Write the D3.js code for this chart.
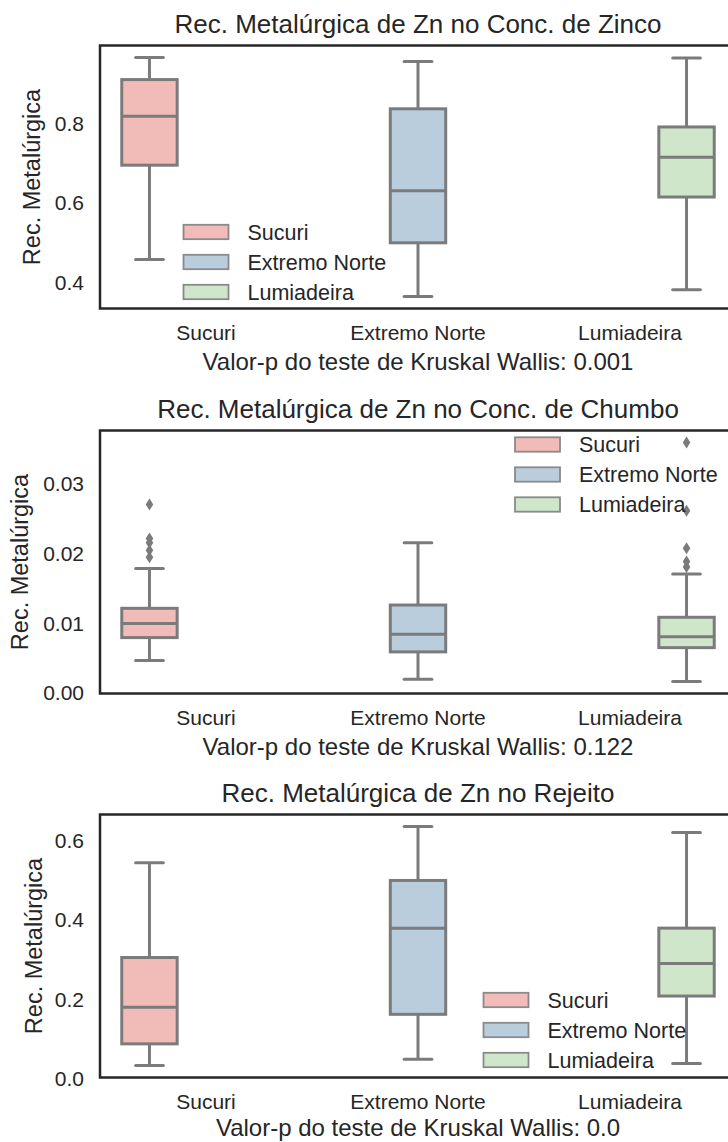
<!DOCTYPE html>
<html>
<head>
<meta charset="utf-8">
<script src="https://cdn.jsdelivr.net/npm/d3@7"></script>
<style>
  html, body { margin: 0; padding: 0; background: #fff; }
  svg { display: block; font-family: "Liberation Sans", Arial, sans-serif; }
</style>
</head>
<body>
<svg id="chart" width="728" height="1142"></svg>
<script>
// ---------- DATA ----------
const categories = ["Sucuri", "Extremo Norte", "Lumiadeira"];
const colors = ["#f1bcb8", "#b9cddd", "#cfe6ca"];

// [whisker low, Q1, median, Q3, whisker high] per category
const zincoStats = [
  [0.458, 0.695, 0.818, 0.910, 0.9656],
  [0.365, 0.500, 0.631, 0.8366, 0.9556],
  [0.382, 0.615, 0.715, 0.791, 0.964]
];
const zincoOutliers = [[], [], []];

const chumboStats = [
  [0.00467, 0.00797, 0.0100, 0.01218, 0.0179],
  [0.0020, 0.00592, 0.00845, 0.01265, 0.02158],
  [0.00166, 0.00653, 0.0081, 0.01089, 0.01709]
];
const chumboOutliers = [
  [0.0271, 0.0222, 0.0216, 0.0205, 0.0195],
  [],
  [0.0360, 0.0262, 0.0208, 0.0189, 0.0181]
];

const rejeitoStats = [
  [0.034, 0.0886, 0.1807, 0.306, 0.5446],
  [0.050, 0.163, 0.380, 0.500, 0.636],
  [0.039, 0.209, 0.291, 0.380, 0.621]
];
const rejeitoOutliers = [[], [], []];

const zincoTicks = [0.4, 0.6, 0.8];
const chumboTicks = [0.00, 0.01, 0.02, 0.03];
const rejeitoTicks = [0.0, 0.2, 0.4, 0.6];

const titles = [
  "Rec. Metalúrgica de Zn no Conc. de Zinco",
  "Rec. Metalúrgica de Zn no Conc. de Chumbo",
  "Rec. Metalúrgica de Zn no Rejeito"
];
const pValues = ["0.001", "0.122", "0.0"];
const yLabel = "Rec. Metalúrgica";

// ---------- LAYOUT ----------
const svg = d3.select("#chart");
const left = 100, right = 736, plotH = 263;
const panels = [
  { top: 45.5, stats: zincoStats, outliers: zincoOutliers, ticks: zincoTicks, fmt: d3.format(".1f"), ylx: 32, xlOff: 61, legend: { x: 183.5, y: 232 } },
  { top: 430.5, stats: chumboStats, outliers: chumboOutliers, ticks: chumboTicks, fmt: d3.format(".2f"), ylx: 20, xlOff: 61, legend: { x: 515, y: 444.5 } },
  { top: 814.5, stats: rejeitoStats, outliers: rejeitoOutliers, ticks: rejeitoTicks, fmt: d3.format(".1f"), ylx: 34, xlOff: 58, legend: { x: 483.5, y: 1000 } }
];

const textColor = "#262626";
const lineGray = "#7b7b7b";
const tickFont = 21;

const x = d3.scaleBand().domain(categories).range([left, right]).padding(0);
const hue = d3.scaleBand().domain(categories).range([-0.4 * x.bandwidth(), 0.4 * x.bandwidth()]);
const boxW = hue.bandwidth() * 0.98;

panels.forEach((p, pi) => {
  const g = svg.append("g");
  const allVals = p.stats.flat().concat(p.outliers.flat());
  const [mn, mx] = d3.extent(allVals);
  const pad = (mx - mn) * 0.05;
  const y = d3.scaleLinear().domain([mn - pad, mx + pad]).range([p.top + plotH, p.top]);

  // boxes
  categories.forEach((c, i) => {
    const s = p.stats[i];
    const cx = x(c) + x.bandwidth() / 2 + hue(c) + hue.bandwidth() / 2;
    const bg = g.append("g");
    bg.append("line").attr("x1", cx).attr("x2", cx).attr("y1", y(s[3])).attr("y2", y(s[4]))
      .attr("stroke", lineGray).attr("stroke-width", 3);
    bg.append("line").attr("x1", cx).attr("x2", cx).attr("y1", y(s[1])).attr("y2", y(s[0]))
      .attr("stroke", lineGray).attr("stroke-width", 3);
    [s[0], s[4]].forEach(v => {
      bg.append("line").attr("x1", cx - boxW / 4).attr("x2", cx + boxW / 4)
        .attr("y1", y(v)).attr("y2", y(v))
        .attr("stroke", lineGray).attr("stroke-width", 3).attr("stroke-linecap", "round");
    });
    bg.append("rect").attr("x", cx - boxW / 2).attr("width", boxW)
      .attr("y", y(s[3])).attr("height", y(s[1]) - y(s[3]))
      .attr("fill", colors[i]).attr("stroke", lineGray).attr("stroke-width", 3);
    bg.append("line").attr("x1", cx - boxW / 2).attr("x2", cx + boxW / 2)
      .attr("y1", y(s[2])).attr("y2", y(s[2]))
      .attr("stroke", lineGray).attr("stroke-width", 3);
    p.outliers[i].forEach(v => {
      bg.append("path")
        .attr("d", d3.line()([[cx, y(v) - 6], [cx + 3.8, y(v)], [cx, y(v) + 6], [cx - 3.8, y(v)]]) + "Z")
        .attr("fill", lineGray);
    });
  });

  // frame
  g.append("rect").attr("x", left).attr("y", p.top).attr("width", right - left).attr("height", plotH)
    .attr("fill", "none").attr("stroke", textColor).attr("stroke-width", 2.5);

  // y axis (no tick lines)
  const yAxis = d3.axisLeft(y).tickValues(p.ticks).tickFormat(p.fmt).tickSize(0).tickPadding(16);
  const ya = g.append("g").attr("transform", `translate(${left},0)`).call(yAxis);
  ya.select(".domain").remove();
  ya.selectAll("text").attr("font-size", tickFont).attr("fill", textColor).attr("font-family", "Liberation Sans, Arial, sans-serif");

  // x axis
  const xAxis = d3.axisBottom(x).tickSize(0).tickPadding(17);
  const xa = g.append("g").attr("transform", `translate(0,${p.top + plotH})`).call(xAxis);
  xa.select(".domain").remove();
  xa.selectAll("text").attr("font-size", tickFont).attr("fill", textColor).attr("font-family", "Liberation Sans, Arial, sans-serif");

  // title
  g.append("text").attr("x", (left + right) / 2).attr("y", p.top - 13)
    .attr("text-anchor", "middle").attr("font-size", 26).attr("fill", textColor).text(titles[pi]);

  // x label
  g.append("text").attr("x", (left + right) / 2).attr("y", p.top + plotH + p.xlOff)
    .attr("text-anchor", "middle").attr("font-size", 24).attr("fill", textColor)
    .text("Valor-p do teste de Kruskal Wallis: " + pValues[pi]);

  // y label
  g.append("text").attr("transform", `translate(${p.ylx},${p.top + plotH / 2}) rotate(-90)`)
    .attr("text-anchor", "middle").attr("dy", "0.35em").attr("font-size", 23.5).attr("fill", textColor)
    .text(yLabel);

  // legend
  const lg = g.append("g").attr("transform", `translate(${p.legend.x},${p.legend.y})`);
  categories.forEach((c, i) => {
    const row = lg.append("g").attr("transform", `translate(0,${i * 30})`);
    row.append("rect").attr("x", 0).attr("y", -7.2).attr("width", 45).attr("height", 14.4)
      .attr("fill", colors[i]).attr("stroke", "#8a8a8a").attr("stroke-width", 1.8);
    row.append("text").attr("x", 64).attr("y", 0).attr("dy", "0.35em")
      .attr("font-size", 21.5).attr("fill", textColor).text(c);
  });
});
</script>
</body>
</html>
